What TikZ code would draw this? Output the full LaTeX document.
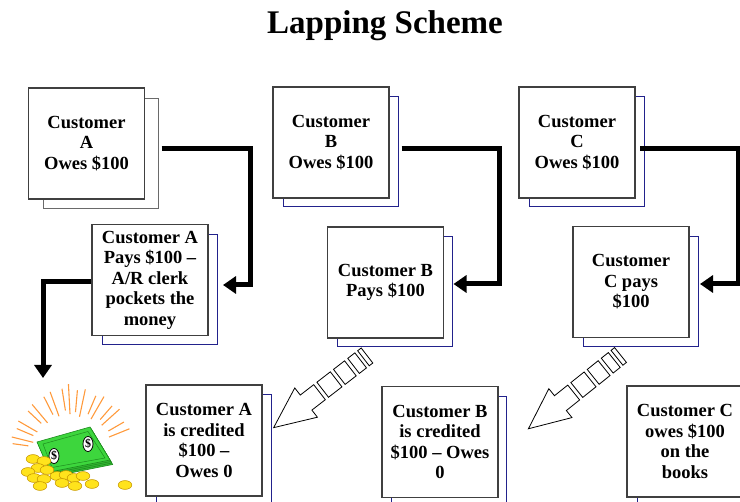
\documentclass[tikz,border=0pt]{standalone}
\usepackage{fontspec}
\setmainfont{Liberation Serif}
\usetikzlibrary{arrows.meta}
\definecolor{cardline}{HTML}{404040}
\definecolor{cardgray}{HTML}{6A6A6A}
\definecolor{cardblue}{HTML}{22228C}
\definecolor{rayorange}{HTML}{FF9A3C}
\definecolor{billgreen}{HTML}{3DD63D}
\definecolor{billdark}{HTML}{1E8C1E}
\definecolor{coingold}{HTML}{FFE31C}
\definecolor{coinrim}{HTML}{C99A00}
\tikzset{
  card/.style={draw=cardline, line width=1.1pt, fill=white, minimum width=116pt, minimum height=111pt,
    inner sep=0pt, align=center, font=\fontsize{18.5}{20.5}\selectfont\bfseries},
  cardback/.style={draw=cardblue, line width=1pt, fill=white, minimum width=115pt, minimum height=110pt, inner sep=0pt},
  bigarrow/.style={line width=5pt, -{Triangle[length=13pt,width=17pt]}},
  stripebox/.style={draw=black, line width=0.8pt, fill=white},
  ray/.style={draw=rayorange, line width=1.1pt},
  coin/.style={draw=coinrim, line width=0.6pt, fill=coingold},
  bill/.style={draw=billdark, line width=0.6pt, fill=billgreen}
}
\newcommand{\stripedarrow}[2]{%
  \begin{scope}[shift={#1}, rotate=#2]
    \draw[stripebox] (0,-9.5) rectangle (4.5,9.5);
    \draw[stripebox] (8,-9.5) rectangle (17,9.5);
    \draw[stripebox] (21,-9.5) rectangle (35,9.5);
    \draw[stripebox] (39,-9.5) rectangle (56,9.5);
    \draw[stripebox] (60,-9.5) -- (77,-9.5) -- (77,-18.5) -- (118,0) -- (77,18.5) -- (77,9.5) -- (60,9.5) -- cycle;
  \end{scope}}
\begin{document}
\begin{tikzpicture}[x=1pt,y=-1pt]
\useasboundingbox (0,0) rectangle (740,502);
\clip (0,0) rectangle (740,502);

\node[font=\fontsize{33}{38}\selectfont\bfseries, anchor=base] (title) at (385,33.5) {Lapping Scheme};

\node[cardback, draw=cardgray] (a1b) at (100.5,153.5) {};
\node[card] (a1) at (86.5,143.5) {Customer\\A\\Owes \$100};
\node[cardback] (b1b) at (340.5,152) {};
\node[card] (b1) at (331,142.5) {Customer\\B\\Owes \$100};
\node[cardback] (c1b) at (586.5,152) {};
\node[card] (c1) at (577,142.5) {Customer\\C\\Owes \$100};

\node[cardback] (a2b) at (159.5,289.5) {};
\node[card] (a2) at (150,280) {Customer A\\Pays \$100 –\\A/R clerk\\pockets the\\money};
\node[cardback] (b2b) at (395,291.5) {};
\node[card] (b2) at (385.5,282.5) {Customer B\\Pays \$100};
\node[cardback] (c2b) at (640.5,291.5) {};
\node[card] (c2) at (631,282) {Customer\\C pays\\\$100};

\node[cardback] (a3b) at (214,450) {};
\node[card] (a3) at (204,440.5) {Customer A\\is credited\\\$100 –\\Owes 0};
\node[cardback] (b3b) at (449,451.5) {};
\node[card] (b3) at (440,442) {Customer B\\is credited\\\$100 – Owes\\0};
\node[cardback] (c3b) at (694.5,451) {};
\node[card] (c3) at (685,441.5) {Customer C\\owes \$100\\on the\\books};

\draw[bigarrow] ([xshift=3pt,yshift=4.5pt]a1b.east) -- ++(89,0) |- ([xshift=5.5pt,yshift=4.5pt]a2b.east);
\draw[bigarrow] ([xshift=3pt,yshift=3pt]b1b.east) -- ++(97.5,0) |- ([xshift=0.5pt,yshift=7.5pt]b2b.east);
\draw[bigarrow] ([xshift=-4.5pt,yshift=3pt]c1b.east) -- ++(98,0) |- ([xshift=1.5pt,yshift=7.5pt]c2b.east);

\coordinate (cash) at (43,378);
\draw[bigarrow] ([yshift=-2pt]a2.west) -| (cash);

\stripedarrow{([xshift=-28pt,yshift=-8.5pt]b2b.south)}{217.7}
\stripedarrow{([xshift=-20pt,yshift=-8pt]c2b.south)}{218.7}

\foreach \a/\r/\l in {22/40/22,30/42/18,42/40/24,49/43/18,60/38/26,67/41/20,78/36/28,85/40/22,
  93/38/30,99/42/22,110/38/26,117/42/20,130/38/24,137/42/18,150/40/22,157/42/18,166/40/22,172/44/16}
  \draw[ray] (72,452) ++(-\a:\r) -- ++(-\a:\l);

\foreach \k in {4.5,3,1.5} {
  \begin{scope}[shift={(\k*0.6,\k)}]
    \draw[bill, fill=billdark!40!billgreen] (37,442) -- (90,427) -- (110,460) -- (50,472) -- cycle;
  \end{scope}
}
\draw[bill] (37,442) -- (90,427) -- (110,460) -- (50,472) -- cycle;
\draw[billdark, line width=0.5pt] (43,444) -- (88,431.5) -- (105,458) -- (52,467.5) -- cycle;
\draw[fill=white, line width=0.8pt] (54,456) ellipse (5 and 7.5);
\draw[fill=white, line width=0.8pt] (88,444) ellipse (5 and 7.5);
\node[font=\fontsize{12}{12}\selectfont\bfseries, inner sep=0pt] (d1) at (54,456) {\$};
\node[font=\fontsize{12}{12}\selectfont\bfseries, inner sep=0pt] (d2) at (88,444) {\$};

\foreach \x/\y in {33/459,44/461,38/468,28/472,47/470,34/478,57/476,66/475,44/479,
  74/478,83/476,40/486,62/483,75/486,92/484,125/485}
  \draw[coin] (\x,\y) ellipse (6.8 and 4.4);

\end{tikzpicture}
\end{document}
